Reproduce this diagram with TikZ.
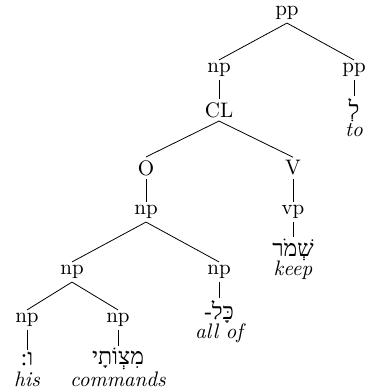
\documentclass[tikz,border=0pt]{standalone}
\usepackage{fontspec}
\TeXXeTstate=1
\newfontfamily\heb[Script=Hebrew,Scale=1.1]{Liberation Serif}
\newcommand{\hb}[1]{{\heb\beginR #1\endR}}
\begin{document}
\begin{tikzpicture}[x=0.5pt,y=-0.5pt,
  cat/.style={inner sep=1.5pt, font=\fontsize{10.5}{12}\selectfont},
  word/.style={inner sep=1pt, font=\fontsize{10.5}{12}\selectfont},
  gloss/.style={inner sep=0pt, font=\fontsize{10.5}{12}\selectfont\itshape},
  edge/.style={draw, line width=0.4pt}]
\useasboundingbox (0,0) rectangle (367,392);
% categories
\node[cat] (pp0) at (287,13) {pp};
\node[cat] (np1) at (219,70) {np};
\node[cat] (pp2) at (354,70) {pp};
\node[cat] (cl) at (219,110) {CL};
\node[word] (lamed) at (354,110) {\hb{לְ}};
\node[gloss] (to) at (354,130) {to};
\node[cat] (o) at (146,168) {O};
\node[cat] (v) at (293,168) {V};
\node[cat] (np3) at (146,212) {np};
\node[cat] (vp) at (293,212) {vp};
\node[word] (shamor) at (293,250) {\hb{שְׁמֹר}};
\node[gloss] (keep) at (293,270) {keep};
\node[cat] (np4) at (72,272) {np};
\node[cat] (np5) at (219,272) {np};
\node[word] (kol) at (219,312) {\hb{כָּל-}};
\node[gloss] (allof) at (219,333) {all of};
\node[cat] (np6) at (27,320) {np};
\node[cat] (np7) at (118,320) {np};
\node[word] (vav) at (27,359) {\hb{ו:}};
\node[gloss] (his) at (27,379) {his};
\node[word] (mitsvot) at (118,359) {\hb{מִצְוֹתָי}};
\node[gloss] (commands) at (118,379) {commands};
% edges
\draw[edge] (pp0.south) -- (np1.north);
\draw[edge] (pp0.south) -- (pp2.north);
\draw[edge] (np1.south) -- (cl.north);
\draw[edge] (pp2.south) -- (lamed.north);
\draw[edge] (cl.south) -- (o.north);
\draw[edge] (cl.south) -- (v.north);
\draw[edge] (o.south) -- (np3.north);
\draw[edge] (v.south) -- (vp.north);
\draw[edge] (vp.south) -- (shamor.north);
\draw[edge] (np3.south) -- (np4.north);
\draw[edge] (np3.south) -- (np5.north);
\draw[edge] (np5.south) -- (kol.north);
\draw[edge] (np4.south) -- (np6.north);
\draw[edge] (np4.south) -- (np7.north);
\draw[edge] (np6.south) -- (vav.north);
\draw[edge] (np7.south) -- (mitsvot.north);
\end{tikzpicture}
\end{document}
